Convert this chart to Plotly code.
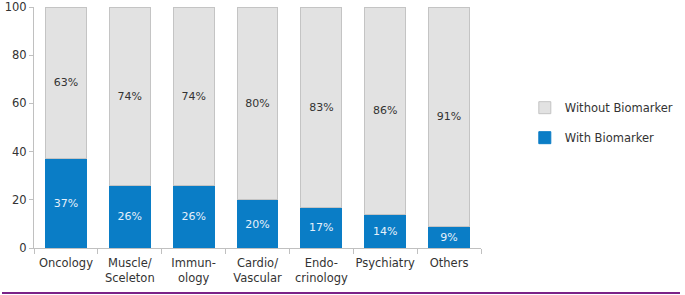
import plotly.graph_objects as go

categories = ["Oncology", "Muscle/<br>Sceleton", "Immun-<br>ology", "Cardio/<br>Vascular",
              "Endo-<br>crinology", "Psychiatry", "Others"]
with_biomarker = [37, 26, 26, 20, 17, 14, 9]
without_biomarker = [63, 74, 74, 80, 83, 86, 91]
y_ticks = [0, 20, 40, 60, 80, 100]

FONT = "DejaVu Sans"

fig = go.Figure()
fig.add_trace(go.Bar(
    x=categories, y=with_biomarker, name="With Biomarker", legendgroup="with",
    legendrank=2,
    marker=dict(color="#0a7dc6", line=dict(color="#0a7dc6", width=1)),
    text=[f"{v}%" for v in with_biomarker], textposition="inside",
    insidetextanchor="middle",
    textfont=dict(color="#e6f0fa", size=11.5, family=FONT),
))
fig.add_trace(go.Bar(
    x=categories, y=without_biomarker, name="Without Biomarker", legendgroup="without",
    legendrank=1,
    marker=dict(color="#e2e2e2", line=dict(color="#c4c4c4", width=1)),
    text=[f"{v}%" for v in without_biomarker], textposition="inside",
    insidetextanchor="middle",
    textfont=dict(color="#333333", size=11, family=FONT),
))

fig.update_layout(
    width=685, height=295,
    barmode="stack", bargap=0.36,
    margin=dict(l=34, r=204, t=7, b=47, autoexpand=False),
    paper_bgcolor="white", plot_bgcolor="white",
    font=dict(family=FONT, size=11, color="#333333"),
    uniformtext=dict(mode="show", minsize=11),
    showlegend=True,
    legend=dict(x=1.098, y=0.52, xanchor="left", yanchor="middle",
                traceorder="grouped", font=dict(size=11.5, color="#333333", family=FONT),
                tracegroupgap=11, itemwidth=30),
    xaxis=dict(showline=True, linecolor="#c0c0c0", linewidth=1, automargin=False,
               tickangle=0, ticklabelstandoff=4,
               ticks="outside", tickson="boundaries", ticklen=5, tickcolor="#c0c0c0",
               tickfont=dict(size=11.5, color="#333333", family=FONT),
               showgrid=False),
    yaxis=dict(range=[0, 100], tickvals=y_ticks, showline=True, linecolor="#c0c0c0",
               linewidth=1, ticks="outside", ticklen=4, tickcolor="#c0c0c0",
               showgrid=False, zeroline=False, automargin=False,
               tickfont=dict(size=11.5, color="#333333", family=FONT)),
    shapes=[dict(type="line", xref="paper", yref="paper",
                 x0=-32/447, x1=(680-34)/447, y0=-45/241, y1=-45/241,
                 line=dict(color="#7a2288", width=2))],
)

fig.write_html("out.html",
               config={"displayModeBar": False},
               post_script="document.body.style.margin='0';document.body.style.overflow='hidden';")
